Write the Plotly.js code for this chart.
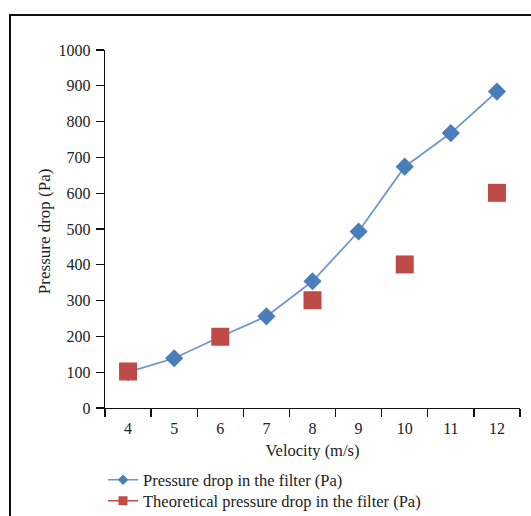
<!DOCTYPE html>
<html>
<head>
<meta charset="utf-8">
<script src="https://cdn.plot.ly/plotly-3.0.1.min.js"></script>
<style>
  html, body { margin: 0; padding: 0; background: #fff; }
  #wrap { position: relative; width: 531px; height: 516px; overflow: hidden; }
  #frame { position: absolute; left: 9px; top: 14px; width: 600px; height: 600px;
           border-top: 2px solid #111; border-left: 2px solid #111; pointer-events: none; }
  #chart { position: absolute; left: 0; top: 0; width: 531px; height: 516px; }
</style>
</head>
<body>
<div id="wrap">
  <div id="chart"></div>
  <div id="frame"></div>
</div>
<script>
const velocity = ['4', '5', '6', '7', '8', '9', '10', '11', '12'];
const measuredDrop = [100, 139, 199, 256, 354, 493, 674, 768, 884];
const theoVelocity = ['4', '6', '8', '10', '12'];
const theoreticalDrop = [102, 199, 301, 401, 601];
const yTicks = [0, 100, 200, 300, 400, 500, 600, 700, 800, 900, 1000];
const seriesNames = ['Pressure drop in the filter (Pa)', 'Theoretical pressure drop in the filter (Pa)'];
const xTitle = 'Velocity (m/s)';
const yTitle = 'Pressure drop (Pa)';

const blue = '#4a7ebb';
const blueLine = '#6f97cc';
const red = '#be4b48';
const font = 'Liberation Serif, Times New Roman, serif';
const ink = '#222';

const traces = [
  {
    x: velocity, y: measuredDrop, type: 'scatter', mode: 'lines+markers',
    line: { color: blueLine, width: 1.8 },
    marker: { symbol: 'diamond', size: 14, color: blue },
    showlegend: false, cliponaxis: false
  },
  {
    x: theoVelocity, y: theoreticalDrop, type: 'scatter', mode: 'markers',
    marker: { symbol: 'square', size: 18, color: red },
    showlegend: false, cliponaxis: false
  },
  {
    x: [null], y: [null], type: 'scatter', mode: 'lines+markers', name: seriesNames[0],
    line: { color: blueLine, width: 1.6 },
    marker: { symbol: 'diamond', size: 8, color: blue },
    legend: 'legend'
  },
  {
    x: [null], y: [null], type: 'scatter', mode: 'lines+markers', name: seriesNames[1],
    line: { color: red, width: 1.6 },
    marker: { symbol: 'square', size: 9, color: red },
    legend: 'legend2'
  }
];

const legendBase = {
  xref: 'container', yref: 'container', xanchor: 'left', yanchor: 'middle',
  orientation: 'v', font: { family: font, size: 16.5, color: ink },
  bgcolor: 'rgba(0,0,0,0)', borderwidth: 0
};

const layout = {
  width: 531, height: 516,
  margin: { l: 105, r: 11, t: 50, b: 108, autoexpand: false },
  paper_bgcolor: '#fff', plot_bgcolor: '#fff',
  font: { family: font, size: 16, color: ink },
  showlegend: true,
  legend: Object.assign({}, legendBase, { x: 0.194, y: 1 - 480 / 516 }),
  legend2: Object.assign({}, legendBase, { x: 0.194, y: 1 - 501 / 516 }),
  xaxis: {
    type: 'category', categoryorder: 'array', categoryarray: velocity,
    range: [-0.5, 8.5],
    tickson: 'boundaries', ticks: 'outside', ticklen: 8, tickwidth: 1.3, tickcolor: '#111',
    ticklabelstandoff: 5,
    showline: true, linecolor: '#111', linewidth: 1.3,
    showgrid: false, zeroline: false,
    tickfont: { family: font, size: 16, color: ink },
    title: { text: xTitle, font: { family: font, size: 16.5, color: ink }, standoff: 9 }
  },
  yaxis: {
    range: [0, 1000], tickvals: yTicks,
    ticks: 'outside', ticklen: 8, tickwidth: 1.3, tickcolor: '#111',
    ticklabelstandoff: 2,
    showline: true, linecolor: '#111', linewidth: 1.3,
    showgrid: false, zeroline: false,
    tickfont: { family: font, size: 16, color: ink }
  },
  annotations: [{
    text: yTitle, textangle: -90, showarrow: false,
    xref: 'paper', yref: 'paper', x: -0.147, y: 0.494,
    xanchor: 'center', yanchor: 'middle',
    font: { family: font, size: 17, color: ink }
  }]
};

Plotly.newPlot('chart', traces, layout, { displayModeBar: false, staticPlot: true });
</script>
</body>
</html>
